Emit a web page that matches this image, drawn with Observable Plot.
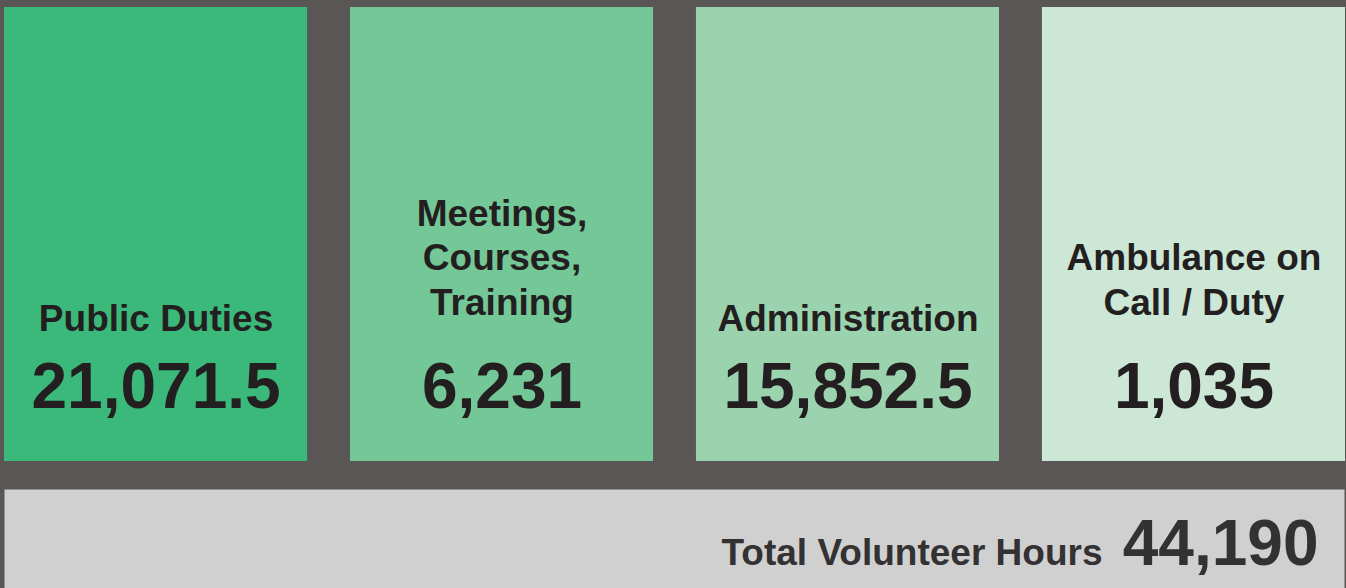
<!DOCTYPE html>
<html>
<head>
<meta charset="utf-8">
<script src="https://cdn.jsdelivr.net/npm/d3@7"></script>
<script src="https://cdn.jsdelivr.net/npm/@observablehq/plot@0.6"></script>
<style>
  html, body { margin: 0; padding: 0; background: #5a5655; overflow: hidden; }
  #chart svg { display: block; }
</style>
</head>
<body>
<div id="chart"></div>
<script>
const categories = ["Public Duties", "Meetings,\nCourses,\nTraining", "Administration", "Ambulance on\nCall / Duty"];
const values = [21071.5, 6231, 15852.5, 1035];
const colors = ["#3bb97a", "#74c796", "#9bd3ae", "#cce7d6"];
const totalLabel = "Total Volunteer Hours";

const data = categories.map((name, i) => ({name, value: values[i]}));
const total = d3.sum(values);
const fmt = d3.format(",");
const font = "'Liberation Sans', Arial, Helvetica, sans-serif";

const tiles = Plot.plot({
  width: 1346,
  height: 489,
  marginTop: 7,
  marginBottom: 28,
  marginLeft: 4,
  marginRight: 1,
  style: {background: "transparent", fontFamily: font},
  x: {domain: categories, paddingInner: 0.124, paddingOuter: 0, round: false, axis: null},
  color: {domain: categories, range: colors},
  marks: [
    Plot.cell(data, {x: "name", fill: "name"}),
    Plot.text(data.filter(d => !d.name.includes("\n")), {
      x: "name", text: "name", frameAnchor: "bottom", lineAnchor: "bottom",
      dy: -131, fontSize: 37, fontWeight: "bold", fill: "#231f20"
    }),
    Plot.text(data.filter(d => d.name.includes("\n")), {
      x: "name", text: "name", frameAnchor: "bottom", lineAnchor: "bottom",
      dy: -147, lineHeight: 1.2, fontSize: 37, fontWeight: "bold", fill: "#231f20"
    }),
    Plot.text(data, {
      x: "name", text: d => fmt(d.value), frameAnchor: "bottom", lineAnchor: "bottom",
      dy: -54, fontSize: 64, fontWeight: "bold", fill: "#231f20"
    })
  ]
});

const totalBar = Plot.plot({
  width: 1346,
  height: 99,
  marginTop: 0,
  marginBottom: 0,
  marginLeft: 4,
  marginRight: 2,
  style: {background: "transparent", fontFamily: font},
  marks: [
    Plot.frame({fill: "#d0d0d0", stroke: null}),
    Plot.text([totalLabel], {
      text: d => d, frameAnchor: "bottom-right", textAnchor: "end", lineAnchor: "bottom",
      dx: -242, dy: -24, fontSize: 37, fontWeight: "bold", fill: "#333131"
    }),
    Plot.text([total], {
      text: d => fmt(d), frameAnchor: "bottom-right", textAnchor: "end", lineAnchor: "bottom",
      dx: -26, dy: -24, fontSize: 64, fontWeight: "bold", fill: "#333131"
    })
  ]
});

document.getElementById("chart").append(tiles, totalBar);
</script>
</body>
</html>
